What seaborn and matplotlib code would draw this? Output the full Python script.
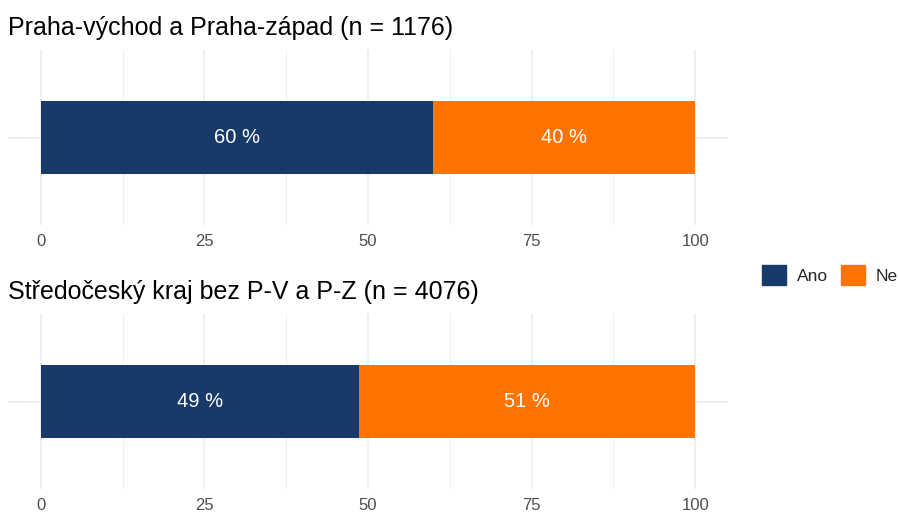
import matplotlib.pyplot as plt
import matplotlib.patches as mpatches
import pandas as pd
import seaborn as sns

# data
regions = ["Praha-východ a Praha-západ", "Středočeský kraj bez P-V a P-Z"]
counts = [1176, 4076]
ano = [60.0, 48.7]
ne = [40.0, 51.3]
answers = ["Ano", "Ne"]
colors = {"Ano": "#183a6b", "Ne": "#ff7300"}

sns.set_theme(style="white")
plt.rcParams["font.family"] = ["Liberation Sans", "DejaVu Sans"]

W, H = 898, 513
fig = plt.figure(figsize=(W / 100, H / 100), dpi=100)

# panel rectangles in pixels: (left, top, right, bottom)
panels = [(8, 50, 728, 225), (8, 314, 728, 489)]

for i, (region, n) in enumerate(zip(regions, counts)):
    l, t, r, b = panels[i]
    ax = fig.add_axes([l / W, 1 - b / H, (r - l) / W, (b - t) / H])
    df = pd.DataFrame({"cat": [""], "Ano": [ano[i]], "total": [ano[i] + ne[i]]})

    # stacked bar: full bar in "Ne" colour, then "Ano" drawn on top
    sns.barplot(data=df, x="total", y="cat", orient="h", color=colors["Ne"],
                width=0.5, linewidth=0, saturation=1, ax=ax, zorder=2)
    sns.barplot(data=df, x="Ano", y="cat", orient="h", color=colors["Ano"],
                width=0.5, linewidth=0, saturation=1, ax=ax, zorder=3)

    ax.text(ano[i] / 2, 0, f"{round(ano[i])} %", color="white", fontsize=14.5,
            ha="center", va="center", zorder=4)
    ax.text(ano[i] + ne[i] / 2, 0, f"{round(ne[i])} %", color="white", fontsize=14.5,
            ha="center", va="center", zorder=4)

    ax.set_xlim(-5, 105)
    ax.set_ylim(0.6, -0.6)
    ax.set_xticks([0, 25, 50, 75, 100])
    ax.set_xticks([12.5, 37.5, 62.5, 87.5], minor=True)
    ax.set_yticks([0])
    ax.set_yticklabels([""])
    ax.grid(True, which="major", color="#ebebeb", linewidth=1.1, zorder=0)
    ax.grid(True, which="minor", axis="x", color="#ebebeb", linewidth=0.6, zorder=0)
    ax.set_axisbelow(True)
    ax.tick_params(axis="both", which="both", length=0, labelsize=12,
                   labelcolor="#4d4d4d", pad=6.5)
    ax.set_xlabel("")
    ax.set_ylabel("")
    for s in ax.spines.values():
        s.set_visible(False)
    ax.set_title(f"{region} (n = {n})", loc="left", fontsize=18,
                 color="black", pad=11)

handles = [mpatches.Patch(color=colors[a], label=a) for a in answers]
fig.legend(handles=handles, loc="center left", bbox_to_anchor=(762 / W, 1 - 275 / H),
           ncol=2, frameon=False, fontsize=12.5, handlelength=1.38, handleheight=1.38,
           handletextpad=0.62, columnspacing=0.75, borderaxespad=0, borderpad=0)

fig.savefig("out.png", dpi=100)
